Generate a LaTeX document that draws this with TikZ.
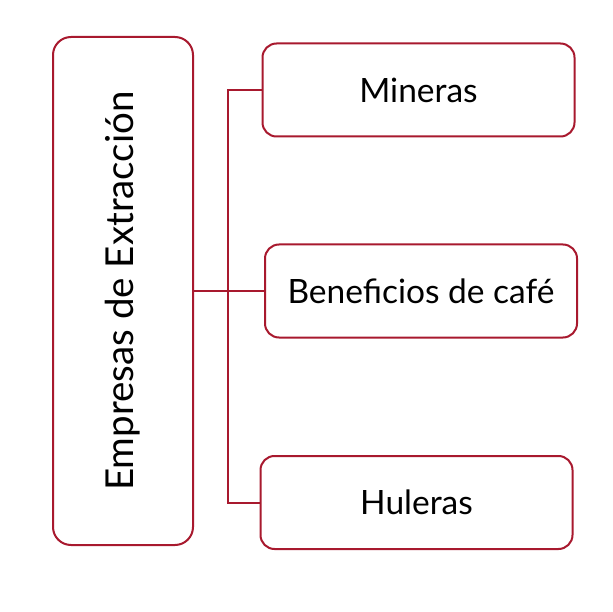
\documentclass[tikz,border=0pt]{standalone}
\usepackage{fontspec}
\setmainfont{Lato}
\usepackage{tikz}
\usetikzlibrary{positioning,calc}
\definecolor{ExtraRed}{HTML}{A8192E}

\begin{document}
\begin{tikzpicture}[
  x=1pt, y=-1pt,
  box/.style={draw=ExtraRed, line width=2pt, rounded corners=14pt, fill=white,
    font=\fontsize{33.5}{38}\selectfont, text=black, inner sep=0pt},
  wide/.style={box, minimum width=312pt, minimum height=93pt},
  link/.style={draw=ExtraRed, line width=2pt}
]
\useasboundingbox (0,0) rectangle (613,612);
\node[box, minimum width=140pt, minimum height=508pt, rounded corners=18pt] (extr) at (123,291) {};
\node[rotate=90, font=\fontsize{38.5}{44}\selectfont] (extrlabel) at (extr.center) {Empresas de Extracción};
\node[wide] (mineras) at (418.5,90) {Mineras};
\node[wide] (cafe) at (421,291) {Beneficios de café};
\node[wide] (huleras) at (416.5,502.5) {Huleras};

\coordinate (split) at (228,291);
\draw[link] (extr.east |- split) -- (cafe.west);
\draw[link] (split) |- (mineras.west);
\draw[link] (split) |- (huleras.west);
\end{tikzpicture}
\end{document}
